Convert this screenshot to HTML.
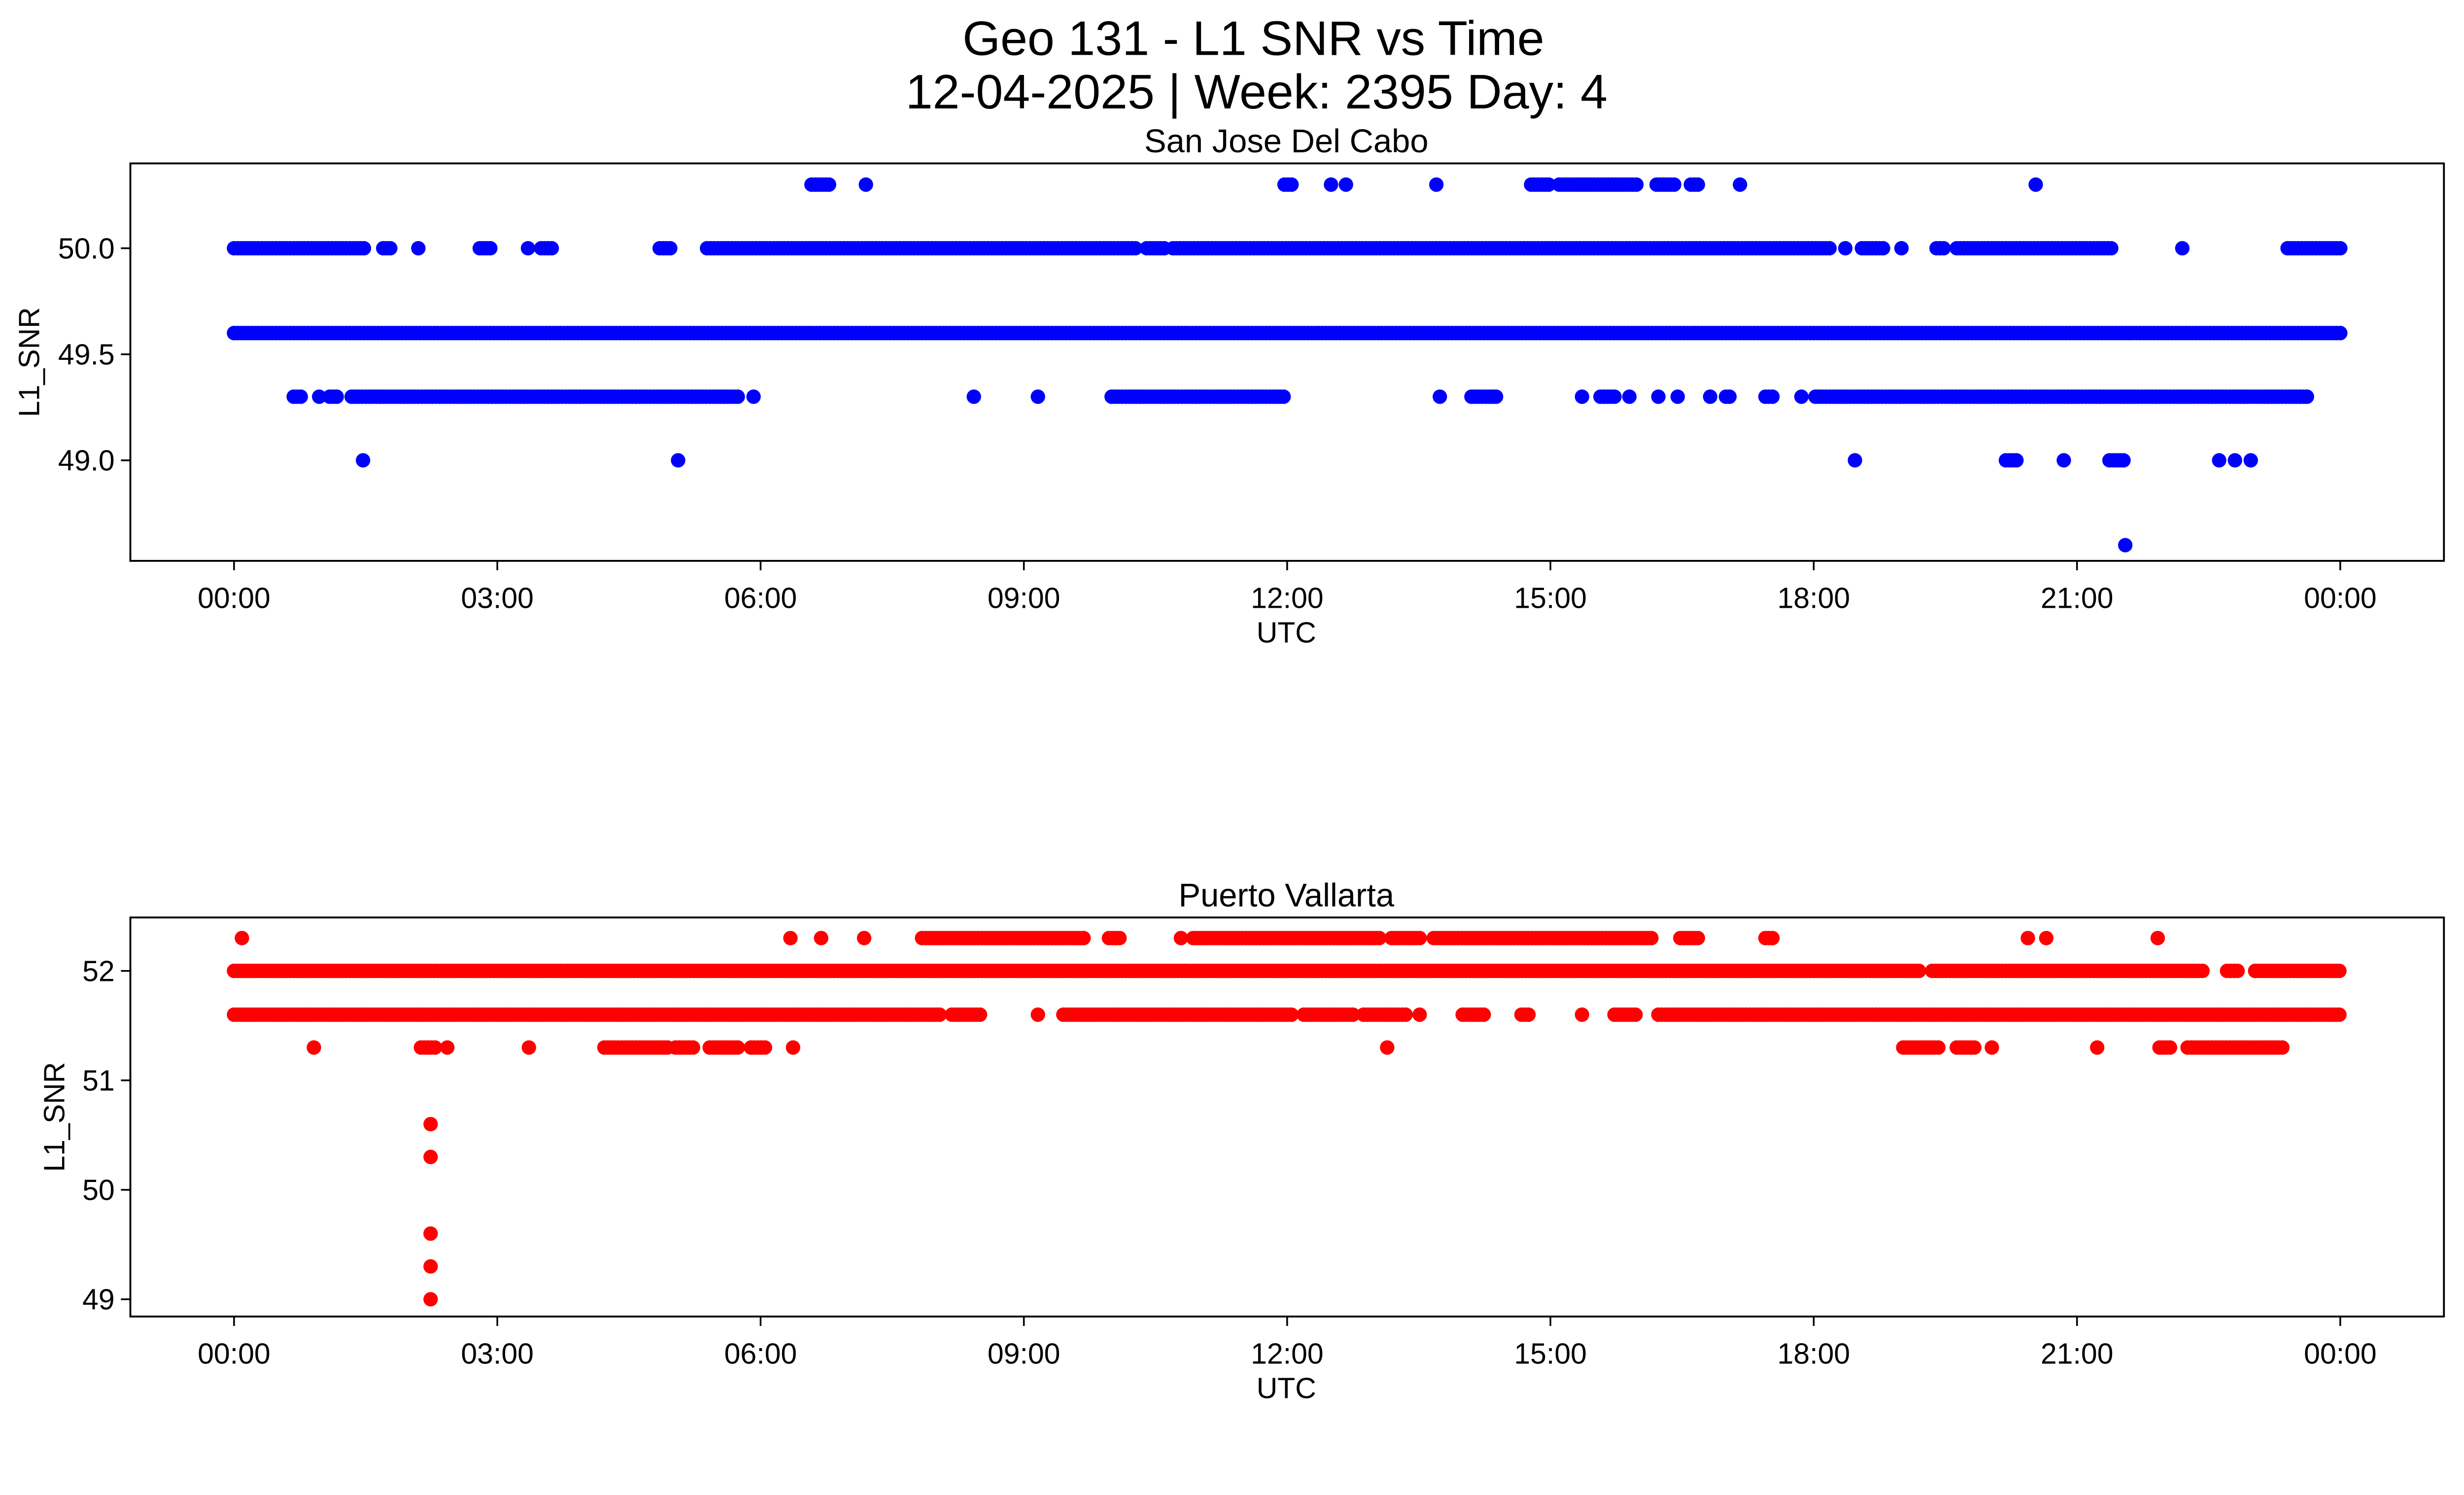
<!DOCTYPE html>
<html><head><meta charset="utf-8"><style>
html,body{margin:0;padding:0;background:#fff}
svg{display:block;font-family:"Liberation Sans","DejaVu Sans",sans-serif}
</style></head><body>
<svg id="fig" width="5278" height="3033" viewBox="0 0 1656 951.6" xmlns="http://www.w3.org/2000/svg">
<rect width="1656" height="952" fill="#fff"/>
<text x="798" y="35" font-size="31" text-anchor="middle">Geo 131 - L1 SNR vs Time</text>
<text x="800" y="69" font-size="31" text-anchor="middle">12-04-2025 | Week: 2395 Day: 4</text>
<g id="top"></g>
<g id="bot"></g>
</svg>
<script>
const tickHours=[0,3,6,9,12,15,18,21,24];
const tickLabels=["00:00","03:00","06:00","09:00","12:00","15:00","18:00","21:00","00:00"];
// San Jose Del Cabo: [level, start hour, end hour]
const sjLevels=[50.3,50.0,49.6,49.3,49.0,48.6];
const sjRuns=[
[50.3,6.58,6.8],[50.3,7.2,7.2],[50.3,11.97,12.05],[50.3,12.5,12.5],[50.3,12.67,12.67],[50.3,13.7,13.7],[50.3,14.78,15.0],[50.3,15.1,16.0],[50.3,16.21,16.43],[50.3,16.6,16.7],[50.3,17.16,17.16],[50.3,20.53,20.53],
[50.0,0,1.5],[50.0,1.7,1.8],[50.0,2.1,2.1],[50.0,2.8,2.93],[50.0,3.35,3.35],[50.0,3.5,3.65],[50.0,4.85,4.97],[50.0,5.39,10.3],[50.0,10.4,10.6],[50.0,10.7,18.2],[50.0,18.36,18.36],[50.0,18.55,18.8],[50.0,19.0,19.0],[50.0,19.4,19.5],[50.0,19.63,21.4],[50.0,22.2,22.2],[50.0,23.4,24],
[49.6,0,24],
[49.3,0.68,0.79],[49.3,0.97,0.97],[49.3,1.09,1.2],[49.3,1.34,5.75],[49.3,5.92,5.92],[49.3,8.43,8.43],[49.3,9.16,9.16],[49.3,10.0,11.97],[49.3,13.74,13.74],[49.3,14.1,14.4],[49.3,15.36,15.36],[49.3,15.57,15.73],[49.3,15.9,15.9],[49.3,16.23,16.23],[49.3,16.45,16.45],[49.3,16.82,16.82],[49.3,17.0,17.07],[49.3,17.45,17.56],[49.3,17.86,17.86],[49.3,18.02,23.64],
[49.0,1.47,1.47],[49.0,5.06,5.06],[49.0,18.47,18.47],[49.0,20.19,20.33],[49.0,20.85,20.85],[49.0,21.37,21.55],[49.0,22.62,22.62],[49.0,22.8,22.8],[49.0,22.98,22.98],
[48.6,21.55,21.55]];
// Puerto Vallarta
const pvRuns=[
[52.3,0.09,0.09],[52.3,6.34,6.34],[52.3,6.69,6.69],[52.3,7.18,7.18],[52.3,7.84,9.68],[52.3,9.97,10.09],[52.3,10.79,10.79],[52.3,10.93,13.05],[52.3,13.19,13.51],[52.3,13.67,16.18],[52.3,16.48,16.7],[52.3,17.45,17.56],[52.3,20.44,20.44],[52.3,20.65,20.65],[52.3,21.92,21.92],
[52.0,0,19.2],[52.0,19.35,22.46],[52.0,22.71,22.84],[52.0,23.03,24],
[51.6,0,8.07],[51.6,8.18,8.5],[51.6,9.16,9.16],[51.6,9.45,12.05],[51.6,12.19,12.76],[51.6,12.87,13.35],[51.6,13.51,13.51],[51.6,14.0,14.25],[51.6,14.67,14.78],[51.6,15.36,15.36],[51.6,15.73,16.0],[51.6,16.23,24],
[51.3,0.91,0.91],[51.3,2.13,2.31],[51.3,2.43,2.43],[51.3,3.36,3.36],[51.3,4.22,4.94],[51.3,5.03,5.26],[51.3,5.42,5.74],[51.3,5.89,6.05],[51.3,6.37,6.37],[51.3,13.14,13.14],[51.3,19.02,19.45],[51.3,19.63,19.85],[51.3,20.03,20.03],[51.3,21.23,21.23],[51.3,21.94,22.07],[51.3,22.26,23.34],
[50.6,2.24,2.24],[50.3,2.24,2.24],[49.6,2.24,2.24],[49.3,2.24,2.24],[49.0,2.24,2.24]];
const sjTicks=[49.0,49.5,50.0];
const pvTicks=[49,50,51,52];

const NS="http://www.w3.org/2000/svg";
function mk(parent,tag,attrs,txt){const e=document.createElementNS(NS,tag);for(const k in attrs)e.setAttribute(k,attrs[k]);if(txt!==undefined)e.textContent=txt;parent.appendChild(e);return e;}
function panel(g,top,bottom,title,yScale,yTicks,yFmt,runs,color,ylx){
  const L=83,R=1556;
  const xs=h=>149+h*(1490-149)/24;
  const t=mk(g,'text',{x:819,y:top-7,'font-size':21,'text-anchor':'middle'},title);
  
  
  const pts=mk(g,'g',{fill:color});
  
  
  runs.forEach(r=>{
    for(let h=r[1];h<=r[2]+1e-9;h+=0.04){
      const c=mk(pts,'circle',{cx:xs(h).toFixed(2),cy:yScale(r[0]).toFixed(2),r:4.6});
      
      
    }
  });
  const fr=mk(g,'rect',{x:L,y:top,width:R-L,height:bottom-top,fill:'none',stroke:'#000','stroke-width':1.2});
  
  
  tickHours.forEach((h,i)=>{
    const x=xs(h);
    mk(g,'line',{x1:x,x2:x,y1:bottom,y2:bottom+6,stroke:'#000','stroke-width':1.1});
    const tl=mk(g,'text',{x:x,y:bottom+30,'font-size':18.5,'text-anchor':'middle'},tickLabels[i]);
    
    
  });
  yTicks.forEach(v=>{
    const y=yScale(v);
    mk(g,'line',{x1:L-6,x2:L,y1:y,y2:y,stroke:'#000','stroke-width':1.1});
    const tl=mk(g,'text',{x:L-10,y:y+6.5,'font-size':18.5,'text-anchor':'end'},yFmt(v));
    
    
  });
  const xl=mk(g,'text',{x:819,y:bottom+52,'font-size':18.5,'text-anchor':'middle'},'UTC');
  
  
  const cy=(top+bottom)/2;
  const yl=mk(g,'text',{x:0,y:0,'font-size':18.5,'text-anchor':'middle',transform:`translate(${ylx},${cy}) rotate(-90)`},'L1_SNR');
  
  
}
panel(document.getElementById('top'),104,357,'San Jose Del Cabo',v=>158+(50-v)*135,sjTicks,v=>v.toFixed(1),sjRuns,'#0000ff',25);
panel(document.getElementById('bot'),584,838,'Puerto Vallarta',v=>618+(52-v)*69.67,pvTicks,v=>String(v),pvRuns,'#ff0000',41);
</script>
</body></html>
